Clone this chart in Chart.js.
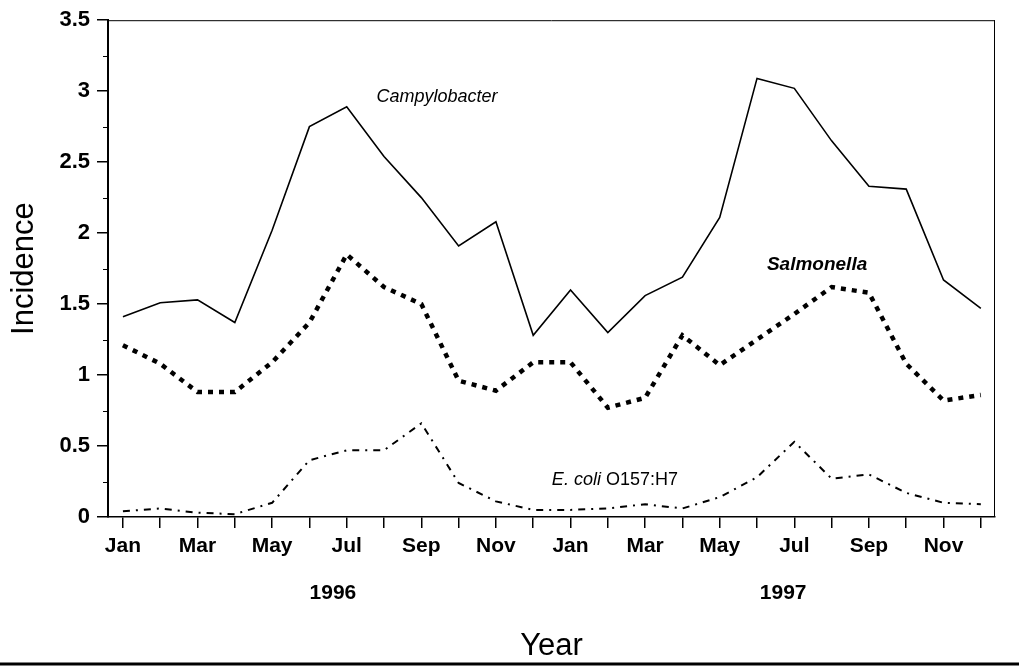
<!DOCTYPE html>
<html>
<head>
<meta charset="utf-8">
<script src="https://cdn.jsdelivr.net/npm/chart.js@4.4.0/dist/chart.umd.min.js"></script>
<style>
  body { margin: 0; background: #fff; }
  canvas { display: block; }
</style>
</head>
<body>
<canvas id="chart" width="1019" height="667"></canvas>
<script>
// months Jan 1996 .. Dec 1997
const months = ['Jan','Feb','Mar','Apr','May','Jun','Jul','Aug','Sep','Oct','Nov','Dec',
                'Jan','Feb','Mar','Apr','May','Jun','Jul','Aug','Sep','Oct','Nov','Dec'];
const years = ['1996', '1997'];
const yTicks = [0, 0.5, 1, 1.5, 2, 2.5, 3, 3.5];
const yMinorTicks = [0.25, 0.75, 1.25, 1.75, 2.25, 2.75, 3.25];

// incidence values
const campylobacter = [1.41, 1.51, 1.53, 1.37, 2.02, 2.75, 2.89, 2.54, 2.25, 1.91, 2.08, 1.28,
                       1.60, 1.30, 1.56, 1.69, 2.11, 3.09, 3.02, 2.65, 2.33, 2.31, 1.67, 1.47];
const salmonella    = [1.21, 1.08, 0.88, 0.88, 1.09, 1.37, 1.85, 1.62, 1.50, 0.96, 0.89, 1.09,
                       1.09, 0.77, 0.84, 1.28, 1.07, 1.25, 1.43, 1.62, 1.58, 1.08, 0.82, 0.86];
const ecoli         = [0.04, 0.06, 0.03, 0.02, 0.10, 0.40, 0.47, 0.47, 0.66, 0.24, 0.11, 0.05,
                       0.05, 0.06, 0.09, 0.06, 0.14, 0.28, 0.53, 0.27, 0.30, 0.17, 0.10, 0.09];

const toPoints = arr => arr.map((v, i) => ({ x: i, y: v }));
const FONT = '"Liberation Sans", Arial, sans-serif';

// series names written next to the lines, years under the axis
const textPlugin = {
  id: 'texts',
  afterDraw(chart) {
    const { ctx, chartArea: a, scales: { x, y } } = chart;
    ctx.save();
    // frame around plot
    ctx.strokeStyle = '#000';
    ctx.lineWidth = 1;
    ctx.beginPath();
    ctx.moveTo(a.left, a.top + 0.5);
    ctx.lineTo(a.right, a.top + 0.5);
    ctx.moveTo(a.right - 0.5, a.top);
    ctx.lineTo(a.right - 0.5, a.bottom);
    // short minor ticks on the y axis
    yMinorTicks.forEach(v => {
      const py = Math.round(y.getPixelForValue(v)) + 0.5;
      ctx.moveTo(a.left - 5, py);
      ctx.lineTo(a.left, py);
    });
    ctx.stroke();

    ctx.fillStyle = '#000';
    ctx.textBaseline = 'middle';
    ctx.textAlign = 'center';
    ctx.font = 'italic 18px ' + FONT;
    ctx.fillText('Campylobacter', x.getPixelForValue(8.42), y.getPixelForValue(2.96));
    ctx.font = 'italic bold 19px ' + FONT;
    ctx.fillText('Salmonella', x.getPixelForValue(18.61), y.getPixelForValue(1.775));

    ctx.textAlign = 'left';
    let ex = x.getPixelForValue(11.5);
    const ey = y.getPixelForValue(0.26);
    ctx.font = 'italic 18px ' + FONT;
    ctx.fillText('E. coli ', ex, ey);
    ex += ctx.measureText('E. coli ').width;
    ctx.font = '18px ' + FONT;
    ctx.fillText('O157:H7', ex, ey);

    // year labels
    ctx.textAlign = 'center';
    ctx.font = 'bold 21px ' + FONT;
    ctx.fillText(years[0], x.getPixelForValue(5.63), a.bottom + 76);
    ctx.fillText(years[1], x.getPixelForValue(17.7), a.bottom + 76);

    // rule at page bottom
    ctx.lineWidth = 3;
    ctx.beginPath();
    ctx.moveTo(0, chart.height - 3);
    ctx.lineTo(chart.width, chart.height - 3);
    ctx.stroke();
    ctx.restore();
  }
};

new Chart(document.getElementById('chart').getContext('2d'), {
  type: 'line',
  data: {
    datasets: [
      { label: 'Campylobacter', data: toPoints(campylobacter),
        borderColor: '#000', borderWidth: 1.6, pointRadius: 0, tension: 0 },
      { label: 'Salmonella', data: toPoints(salmonella),
        borderColor: '#000', borderWidth: 4.5, borderDash: [5, 6], pointRadius: 0, tension: 0 },
      { label: 'E. coli O157:H7', data: toPoints(ecoli),
        borderColor: '#000', borderWidth: 2, borderDash: [7, 6, 2, 6], pointRadius: 0, tension: 0 }
    ]
  },
  options: {
    responsive: false,
    animation: false,
    devicePixelRatio: 1,
    layout: { padding: { left: 0, right: 24, top: 20, bottom: 0 } },
    plugins: { legend: { display: false }, tooltip: { enabled: false } },
    scales: {
      x: {
        type: 'linear',
        min: -0.4,
        max: 23.38,
        afterBuildTicks: s => { s.ticks = months.map((m, i) => ({ value: i })); },
        afterFit: s => { s.height = 150; },
        ticks: {
          autoSkip: false,
          maxRotation: 0,
          padding: 6,
          color: '#000',
          font: { family: FONT, size: 21, weight: 'bold' },
          callback: (v) => (v % 2 === 0 ? months[v] : '')
        },
        grid: { drawOnChartArea: false, drawTicks: true, tickLength: 11, color: '#000', lineWidth: 1.5 },
        border: { display: true, color: '#000', width: 1.5 },
        title: { display: true, text: 'Year', color: '#000',
                 font: { family: FONT, size: 31 }, padding: { top: 0, bottom: 2 } }
      },
      y: {
        min: 0,
        max: 3.5,
        afterBuildTicks: s => { s.ticks = yTicks.map(v => ({ value: v })); },
        afterFit: s => { s.width = 108; },
        ticks: {
          padding: 7,
          color: '#000',
          font: { family: FONT, size: 22, weight: 'bold' },
          callback: v => String(v)
        },
        grid: { drawOnChartArea: false, drawTicks: true, tickLength: 11, color: '#000', lineWidth: 1.5 },
        border: { display: true, color: '#000', width: 2 },
        title: { display: true, text: 'Incidence', color: '#000',
                 font: { family: FONT, size: 31 }, padding: { top: 6, bottom: 0 } }
      }
    }
  },
  plugins: [textPlugin]
});
</script>
</body>
</html>
